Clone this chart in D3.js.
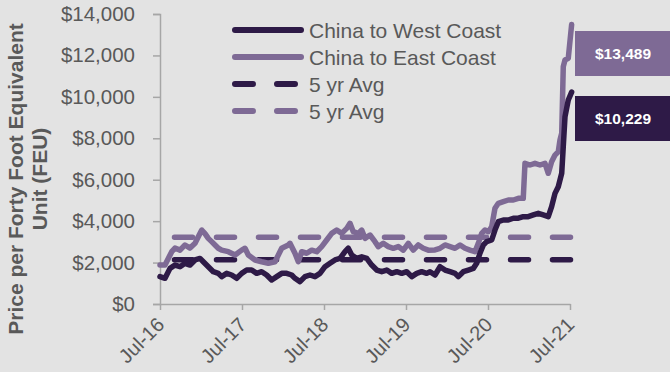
<!DOCTYPE html>
<html>
<head>
<meta charset="utf-8">
<script src="https://cdn.jsdelivr.net/npm/d3@7"></script>
<style>
  html, body { margin: 0; padding: 0; background: #e3e3e3; }
  svg { display: block; }
  text { font-family: "Liberation Sans", Arial, sans-serif; }
</style>
</head>
<body>
<div id="chart"></div>
<script>
// ---- Data (decimal years, USD per FEU) ----
const westYears = [2016.500,2016.561,2016.622,2016.683,2016.744,2016.805,2016.866,2016.927,2016.988,2017.028,2017.089,2017.150,2017.211,2017.252,2017.313,2017.374,2017.435,2017.496,2017.557,2017.618,2017.679,2017.740,2017.801,2017.862,2017.923,2017.984,2018.045,2018.106,2018.146,2018.207,2018.268,2018.329,2018.390,2018.451,2018.512,2018.573,2018.634,2018.695,2018.756,2018.796,2018.838,2018.899,2018.960,2019.021,2019.082,2019.143,2019.204,2019.265,2019.326,2019.387,2019.448,2019.509,2019.570,2019.631,2019.691,2019.752,2019.793,2019.854,2019.915,2019.976,2020.037,2020.098,2020.138,2020.199,2020.260,2020.321,2020.362,2020.402,2020.443,2020.484,2020.545,2020.585,2020.626,2020.687,2020.748,2020.809,2020.870,2020.930,2020.991,2021.052,2021.113,2021.174,2021.235,2021.276,2021.317,2021.357,2021.399,2021.418,2021.439,2021.479,2021.520];
const westValues = [1320,1240,1720,1880,1800,1965,1880,2125,2200,2040,1800,1560,1480,1320,1480,1400,1240,1480,1640,1640,1480,1560,1400,1160,1320,1480,1480,1400,1240,1080,1320,1400,1320,1480,1800,1965,2125,2200,2525,2690,2365,2200,2280,2200,1880,1640,1560,1640,1480,1560,1480,1560,1320,1480,1560,1480,1560,1400,1800,1640,1560,1480,1320,1560,1640,1720,1965,2450,2850,3010,3090,3570,3975,4055,4055,4140,4140,4215,4215,4300,4380,4300,4215,4700,5340,5660,6310,7595,9040,9850,10229];

const eastYears = [2016.500,2016.561,2016.601,2016.643,2016.683,2016.744,2016.805,2016.866,2016.927,2016.967,2017.009,2017.049,2017.089,2017.130,2017.171,2017.211,2017.252,2017.333,2017.415,2017.496,2017.537,2017.577,2017.659,2017.740,2017.821,2017.902,2017.984,2018.065,2018.085,2018.146,2018.187,2018.228,2018.289,2018.350,2018.411,2018.472,2018.533,2018.594,2018.655,2018.716,2018.777,2018.817,2018.857,2018.918,2018.960,2019.000,2019.061,2019.122,2019.162,2019.223,2019.284,2019.345,2019.406,2019.467,2019.528,2019.589,2019.650,2019.711,2019.772,2019.854,2019.915,2019.976,2020.037,2020.098,2020.159,2020.220,2020.280,2020.341,2020.382,2020.423,2020.463,2020.504,2020.545,2020.585,2020.626,2020.687,2020.748,2020.809,2020.870,2020.930,2020.951,2021.012,2021.073,2021.134,2021.195,2021.235,2021.276,2021.317,2021.357,2021.378,2021.399,2021.418,2021.439,2021.479,2021.520];
const eastValues = [1880,1880,2200,2525,2700,2600,2850,2700,2930,3250,3570,3400,3170,3010,2850,2690,2600,2525,2365,2600,2690,2365,2125,2040,1965,2040,2690,2850,2930,2450,2040,2525,2450,2600,2525,2770,3090,3410,3570,3410,3650,3895,3490,3410,3570,3170,3330,3010,2770,2930,2770,2690,2770,2600,2930,2600,2850,2690,2600,2610,2690,2850,2770,2690,2850,2690,2600,2525,2930,3410,3570,3490,3730,4620,4860,4940,5020,5020,5100,5100,6790,6710,6790,6710,6790,6310,6870,7190,7350,7920,8250,11460,11780,11860,13489];

const westAvg = 2140;
const eastAvg = 3220;

const seriesNames = ["China to West Coast", "China to East Coast", "5 yr Avg", "5 yr Avg"];
const yTicks = [0, 2000, 4000, 6000, 8000, 10000, 12000, 14000];
const xTickYears = [2016.5, 2017.5, 2018.5, 2019.5, 2020.5, 2021.5];
const xTickLabels = ["Jul-16", "Jul-17", "Jul-18", "Jul-19", "Jul-20", "Jul-21"];
const axisTitle = ["Price per Forty Foot Equivalent", "Unit (FEU)"];

// ---- Styles ----
const W = 670, H = 372;
const DARK = "#2e1a47", LIGHT = "#7e6a95", TEXT = "#595959", AXIS = "#a6a6a6";

const svg = d3.select("#chart").append("svg").attr("width", W).attr("height", H);
svg.append("rect").attr("width", W).attr("height", H).attr("fill", "#e3e3e3");

const x = d3.scaleLinear().domain([2016.5, 2021.5]).range([160, 570]);
const y = d3.scaleLinear().domain([0, 14000]).range([304, 14]);

// Y axis
const yAxis = svg.append("g").attr("transform", "translate(160,0)")
  .call(d3.axisLeft(y).tickValues(yTicks).tickSize(7).tickPadding(18)
    .tickFormat(d => "$" + d3.format(",")(d)));
yAxis.select(".domain").attr("stroke", AXIS).attr("stroke-width", 1.5);
yAxis.selectAll(".tick line").attr("stroke", AXIS).attr("stroke-width", 1.5);
yAxis.selectAll(".tick text").attr("fill", TEXT).attr("font-size", 20.5)
  .attr("font-family", "'Liberation Sans', Arial, sans-serif");

// X axis
const xAxis = svg.append("g").attr("transform", "translate(0,304)")
  .call(d3.axisBottom(x).tickValues(xTickYears).tickSize(6).tickSizeOuter(0)
    .tickFormat((d, i) => xTickLabels[i]));
xAxis.select(".domain").attr("stroke", AXIS).attr("stroke-width", 1.5);
xAxis.selectAll(".tick line").attr("stroke", AXIS).attr("stroke-width", 1.5);
xAxis.selectAll(".tick text")
  .attr("fill", TEXT).attr("font-size", 20)
  .attr("font-family", "'Liberation Sans', Arial, sans-serif")
  .attr("text-anchor", "end")
  .attr("y", 0).attr("dy", 0)
  .attr("transform", "translate(5,22) rotate(-45)");

// Axis title
const title = svg.append("text")
  .attr("transform", "translate(0,179) rotate(-90)")
  .attr("text-anchor", "middle")
  .attr("fill", TEXT).attr("font-weight", "bold").attr("font-size", 21);
title.append("tspan").attr("x", 0).attr("y", 23).text(axisTitle[0]);
title.append("tspan").attr("x", 0).attr("y", 47).text(axisTitle[1]);

// Average lines
const xStart = x(westYears[0]), xEnd = x(westYears[westYears.length - 1]);
[[eastAvg, LIGHT], [westAvg, DARK]].forEach(([v, c]) => {
  svg.append("line")
    .attr("x1", xStart).attr("x2", xEnd).attr("y1", y(v)).attr("y2", y(v))
    .attr("stroke", c).attr("stroke-width", 5.5)
    .attr("stroke-linecap", "round")
    .attr("stroke-dasharray", "18,24").attr("stroke-dashoffset", -14.5);
});

// Series lines
const line = d3.line().x(d => x(d[0])).y(d => y(d[1])).curve(d3.curveLinear);
const eastData = eastYears.map((t, i) => [t, eastValues[i]]);
const westData = westYears.map((t, i) => [t, westValues[i]]);
svg.append("path").datum(eastData).attr("d", line).attr("fill", "none")
  .attr("stroke", LIGHT).attr("stroke-width", 5.5).attr("stroke-linejoin", "round").attr("stroke-linecap", "round");
svg.append("path").datum(westData).attr("d", line).attr("fill", "none")
  .attr("stroke", DARK).attr("stroke-width", 5.5).attr("stroke-linejoin", "round").attr("stroke-linecap", "round");

// Legend
const legend = svg.append("g");
const legendItems = [
  { name: seriesNames[0], color: DARK, dash: null, y: 30 },
  { name: seriesNames[1], color: LIGHT, dash: null, y: 57 },
  { name: seriesNames[2], color: DARK, dash: "18,24", y: 84 },
  { name: seriesNames[3], color: LIGHT, dash: "18,24", y: 111 }
];
legendItems.forEach(it => {
  const l = legend.append("line").attr("x1", 235).attr("x2", 301)
    .attr("y1", it.y).attr("y2", it.y).attr("stroke", it.color)
    .attr("stroke-width", 6).attr("stroke-linecap", "round");
  if (it.dash) l.attr("stroke-dasharray", it.dash).attr("x2", 295);
  legend.append("text").attr("x", 309).attr("y", it.y + 7.5)
    .attr("fill", TEXT).attr("font-size", 21).text(it.name);
});

// End value labels
const fmt = v => "$" + d3.format(",")(v);
const labels = [
  { v: eastValues[eastValues.length - 1], color: LIGHT, y0: 31 },
  { v: westValues[westValues.length - 1], color: DARK, y0: 96 }
];
labels.forEach(lb => {
  svg.append("rect").attr("x", 575).attr("y", lb.y0).attr("width", 95).attr("height", 45)
    .attr("fill", lb.color);
  svg.append("text").attr("x", 623).attr("y", lb.y0 + 22.5).attr("dy", "0.35em")
    .attr("text-anchor", "middle").attr("fill", "#ffffff")
    .attr("font-weight", "bold").attr("font-size", 15.5).text(fmt(lb.v));
});
</script>
</body>
</html>
